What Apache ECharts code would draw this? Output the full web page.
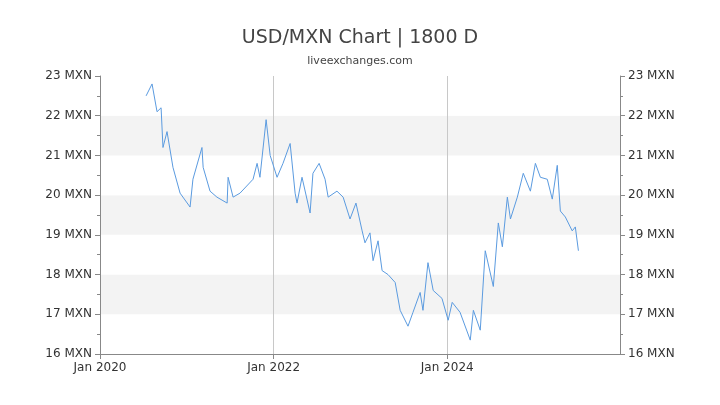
<!DOCTYPE html>
<html><head><meta charset="utf-8">
<script src="https://cdn.jsdelivr.net/npm/echarts@6/dist/echarts.min.js"></script>
<style>html,body{margin:0;background:#fff}#c{width:720px;height:405px}</style>
</head><body><div id="c"></div>
<script>
// 读图估计的汇率数据
var dates = ['2020-07-13','2020-08-07','2020-08-28','2020-09-14','2020-09-22','2020-10-09','2020-11-03','2020-12-03',
 '2021-01-14','2021-01-26','2021-03-05','2021-03-10','2021-04-08','2021-05-07','2021-06-19','2021-06-23','2021-07-14',
 '2021-08-12','2021-10-06','2021-10-23','2021-11-04','2021-11-30','2021-12-17','2022-01-15','2022-02-09','2022-03-11',
 '2022-04-01','2022-04-09','2022-04-30','2022-06-03','2022-06-15','2022-07-11','2022-08-05','2022-08-18','2022-09-24',
 '2022-10-20','2022-11-18','2022-12-13','2023-01-08','2023-01-20','2023-02-10','2023-02-23','2023-03-16','2023-04-02',
 '2023-04-27','2023-05-27','2023-06-17','2023-07-20','2023-08-10','2023-09-09','2023-09-21','2023-10-12','2023-11-03',
 '2023-12-10','2024-01-05','2024-01-22','2024-02-24','2024-04-07','2024-04-20','2024-05-19','2024-06-09','2024-07-13',
 '2024-08-03','2024-08-20','2024-09-10','2024-09-23','2024-10-22','2024-11-16','2024-12-16','2025-01-06','2025-01-27',
 '2025-02-25','2025-03-18','2025-04-08','2025-04-21','2025-05-12','2025-06-10','2025-06-23','2025-07-06'];
var rates = [22.5,22.8,22.1,22.2,21.2,21.6,20.7,20.05,
 19.7,20.4,21.2,20.7,20.1,19.95,19.8,20.45,19.95,
 20.05,20.4,20.8,20.45,21.9,21.0,20.45,20.8,21.3,
 20.05,19.8,20.45,19.55,20.55,20.8,20.4,19.95,20.1,
 19.95,19.4,19.8,19.1,18.8,19.05,18.35,18.85,18.1,
 18.0,17.8,17.1,16.7,17.05,17.55,17.1,18.3,17.6,
 17.4,16.85,17.3,17.05,16.35,17.1,16.6,18.6,17.7,
 19.3,18.7,19.95,19.4,19.95,20.55,20.1,20.8,20.45,
 20.4,19.9,20.75,19.6,19.45,19.1,19.2,18.6];
var yMin = 16, yMax = 23;

var DAY = 86400000;
var xMin = Date.UTC(2020,0,1), xMax = Date.UTC(2025,11,28);
var xStep = 730.5 * DAY; // 两年一个刻度

var chart = echarts.init(document.getElementById('c'));
var lbl = {color:'#333', fontSize:12, fontFamily:'DejaVu Sans', formatter:function(v){return v+' MXN';}};
var yBase = {type:'value', min:yMin, max:yMax, interval:1,
  axisLine:{show:true,lineStyle:{color:'#888'}}, axisTick:{show:true,lineStyle:{color:'#888'}},
  minorTick:{show:true,splitNumber:2,length:3,lineStyle:{color:'#888'}},
  splitLine:{show:false}};
chart.setOption({
  animation:false,
  title:{text:'USD/MXN Chart | 1800 D', subtext:'liveexchanges.com', left:'center', top:24, itemGap:8,
    textStyle:{fontFamily:'DejaVu Sans', fontSize:19, fontWeight:'normal', color:'#444'},
    subtextStyle:{fontFamily:'DejaVu Sans', fontSize:11, color:'#444'}},
  grid:{left:100, right:100, top:76, bottom:51},
  xAxis:{type:'value', min:xMin, max:xMax, interval:xStep,
    axisLine:{lineStyle:{color:'#888'}},
    axisTick:{show:true, lineStyle:{color:'#888'}},
    axisLabel:{color:'#333', fontSize:12, fontFamily:'DejaVu Sans', showMaxLabel:false,
      formatter:function(v){return 'Jan '+new Date(v + 2*DAY).getUTCFullYear();}},
    splitLine:{show:true, lineStyle:{color:'#c8c8c8'}}},
  yAxis:[
    Object.assign({}, yBase, {position:'left', axisLabel:lbl,
      splitArea:{show:true, areaStyle:{color:['#ffffff','#f3f3f3']}}}),
    Object.assign({}, yBase, {position:'right', axisLabel:lbl})
  ],
  graphic:[
    {type:'text', left:120, top:125, style:{text:'USD/MXN Exchange Chart', fill:'#111',
      font:'bold 17px "DejaVu Sans Condensed"'}},
    {type:'text', left:382, top:128, style:{text:'ExchangeConversions.Com 2025', fill:'#1a1a6e',
      font:'bold 12px "DejaVu Sans Condensed"'}}
  ],
  series:[{type:'line', showSymbol:false,
    data:dates.map(function(d,i){
      var p = d.split('-');
      return [Date.UTC(+p[0], +p[1]-1, +p[2]), rates[i]];
    }),
    lineStyle:{color:'#5b9be0', width:1}
  }]
});
</script></body></html>
